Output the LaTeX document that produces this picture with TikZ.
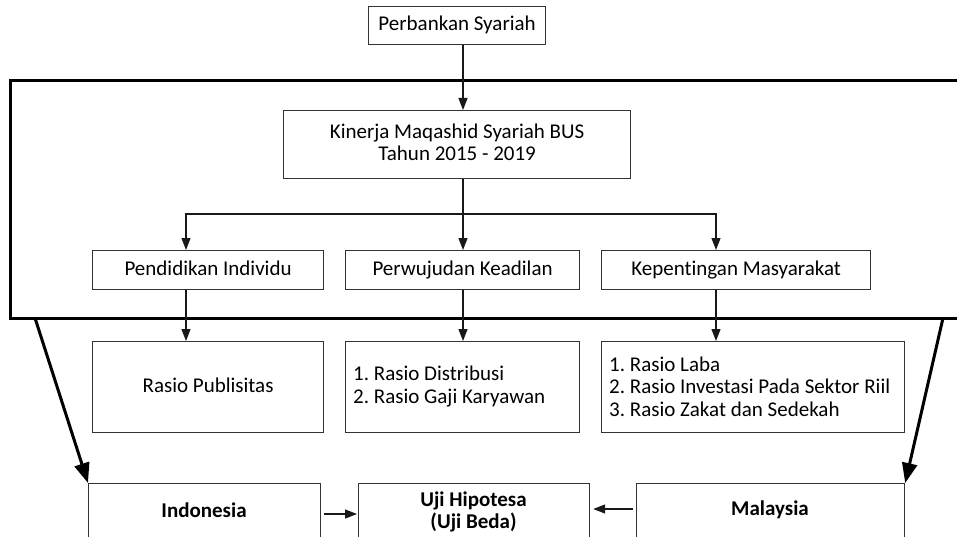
\documentclass[tikz,border=0pt]{standalone}
\usepackage{fontspec}
\setmainfont{Carlito}[Ligatures={NoCommon,NoContextual}]
\usetikzlibrary{arrows.meta,calc}
\newcommand{\boxstrut}{\rule[-4pt]{0pt}{15.5pt}}
\begin{document}
\frenchspacing
\begin{tikzpicture}[x=1pt,y=-1pt,
  box/.style={draw=black!80, line width=1.2pt, inner sep=0pt, align=center, anchor=north west, execute at begin node=\boxstrut},
  listtext/.style={inner sep=0pt, align=left, anchor=west, font=\fontsize{21}{22.5}\selectfont},
  arr/.style={draw=black!90, line width=1.2pt, -{Triangle[length=12pt,width=9pt]}},
  bigarr/.style={draw=black, line width=3pt, -{Triangle[length=20pt,width=15pt]}},
  frame/.style={draw=black, line width=3pt},
  lbl/.style={font=\fontsize{21}{22.5}\selectfont\bfseries, align=center},
  font=\fontsize{21}{22}\selectfont]
\useasboundingbox (0,0) rectangle (957,537);
\clip (0,0) rectangle (957,537);

% column coordinates for connectors
\coordinate (xa) at (186,0);
\coordinate (xb) at (463,0);
\coordinate (xc) at (716,0);
\coordinate (ya) at (0,514);
\coordinate (yb) at (0,509);

% nodes
\node[box, minimum width=177, minimum height=38] (per) at (368,6) {Perbankan Syariah};
\node[box, minimum width=347, minimum height=68] (kin) at (283,110) {Kinerja Maqashid Syariah BUS\\Tahun 2015 - 2019};

\node[box, minimum width=231, minimum height=39] (pend) at (92,250) {Pendidikan Individu};
\node[box, minimum width=234, minimum height=39] (perw) at (345,250) {Perwujudan Keadilan};
\node[box, minimum width=269, minimum height=39] (kep) at (601,250) {Kepentingan Masyarakat};

\node[box, minimum width=231, minimum height=91] (pub) at (92,341) {Rasio Publisitas};
\node[box, minimum width=234, minimum height=91] (dist) at (345,341) {};
\node[box, minimum width=303, minimum height=91] (laba) at (601,341) {};
\node[listtext] (distt) at (353,386.5) {1. Rasio Distribusi\\2. Rasio Gaji Karyawan};
\node[listtext] (labat) at (609,386.5) {1. Rasio Laba\\2. Rasio Investasi Pada Sektor Riil\\3. Rasio Zakat dan Sedekah};

\node[box, minimum width=232, minimum height=90] (ind) at (88,483) {};
\node[box, minimum width=231, minimum height=90] (uji) at (358,483) {};
\node[box, minimum width=268, minimum height=90] (mal) at (636,483) {};
\node[lbl] (indt) at (204,510) {Indonesia};
\node[lbl] (ujit) at (473.5,512) {Uji Hipotesa\\(Uji Beda)};
\node[lbl] (malt) at (770,510) {Malaysia};

% frame (open on the right)
\draw[frame] (962,81) -| (10,318) -- (962,318);
\coordinate (fl) at (35,318);
\coordinate (fr) at (943,318);
\coordinate (br) at (463,214);

% connectors
\draw[arr] (per.south -| xb) -- (kin.north -| xb);
\draw[arr] (kin.south -| xb) -- (perw.north -| xb);
\draw[arr] (br) -| (pend.north -| xa);
\draw[arr] (br) -| (kep.north -| xc);

\draw[arr] (pend.south -| xa) -- (pub.north -| xa);
\draw[arr] (perw.south -| xb) -- (dist.north -| xb);
\draw[arr] (kep.south -| xc) -- (laba.north -| xc);

\draw[bigarr] (fl) -- (ind.north west);
\draw[bigarr] (fr) -- (mal.north east);

\draw[arr, shorten <=3pt, shorten >=1pt] (ind.east |- ya) -- (uji.west |- ya);
\draw[arr, shorten <=3pt, shorten >=3pt] (mal.west |- yb) -- (uji.east |- yb);
\end{tikzpicture}
\end{document}
